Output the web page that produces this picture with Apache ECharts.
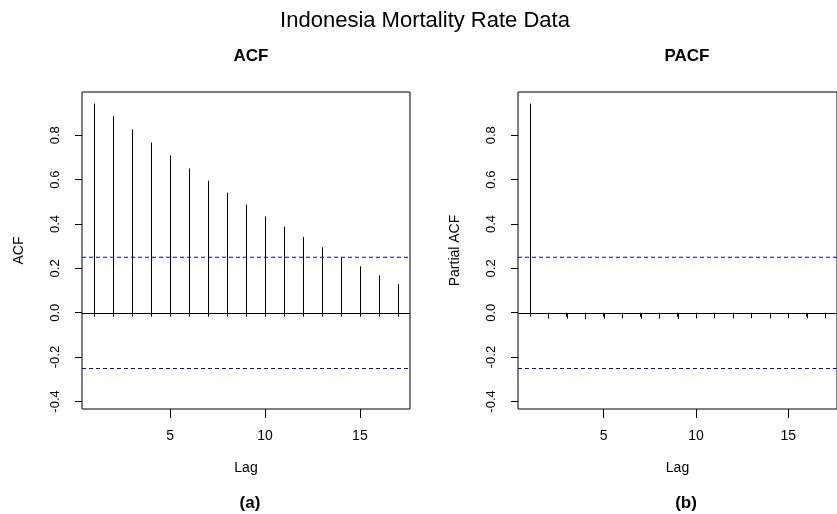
<!DOCTYPE html>
<html>
<head>
<meta charset="utf-8">
<script src="https://cdn.jsdelivr.net/npm/echarts@6/dist/echarts.min.js"></script>
<style>html,body{margin:0;padding:0;background:#fff}#c{width:837px;height:514px}</style>
</head>
<body>
<div id="c"></div>
<script>
// ---- data ----
const lags = [1,2,3,4,5,6,7,8,9,10,11,12,13,14,15,16,17];
const acfValues = [0.943,0.886,0.827,0.767,0.709,0.650,0.595,0.541,0.487,0.434,0.388,0.341,0.295,0.250,0.209,0.168,0.129];
const pacfValues = [0.943,-0.027,-0.027,-0.028,-0.027,-0.026,-0.027,-0.027,-0.028,-0.026,-0.025,-0.026,-0.025,-0.026,-0.025,-0.025,-0.025];
const confLimit = 0.25;
const yTicks = [-0.4,-0.2,0,0.2,0.4,0.6,0.8];
const xMajorTicks = [5,10,15];
const mainTitle = 'Indonesia Mortality Rate Data';
const panelTitles = ['ACF','PACF'];
const yNames = ['ACF','Partial ACF'];
const xName = 'Lag';
const captions = ['(a)','(b)'];

const FONT = "'Liberation Sans', Arial, sans-serif";
const X_MIN = 0.36, X_MAX = 17.64, Y_MIN = -0.434, Y_MAX = 0.995;
const grids = [
  {left: 82, top: 92, width: 328, height: 317},
  {left: 518, top: 92, width: 327, height: 317}
];

const chart = echarts.init(document.getElementById('c'), null, {renderer: 'canvas'});

function hLine(i, value, color, dash, z, snap) {
  return {
    type: 'custom', xAxisIndex: i * 2, yAxisIndex: i, z: z, silent: true, animation: false,
    data: [[X_MIN, value]],
    renderItem: (params, api) => {
      const a = api.coord([X_MIN, api.value(1)]);
      const b = api.coord([X_MAX, api.value(1)]);
      const y = snap ? Math.round(a[1]) + 0.5 : a[1];
      return {type: 'line', shape: {x1: a[0], y1: y, x2: b[0], y2: y},
        style: {stroke: color, lineWidth: 1, lineDash: dash ? dash.slice() : null}};
    }
  };
}

const xAxes = [], yAxes = [], series = [];
[0,1].forEach(i => {
  xAxes.push({
    gridIndex: i, type: 'value', min: X_MIN, max: X_MAX, position: 'bottom',
    axisLine: {show: false}, splitLine: {show: false},
    axisTick: {show: true, length: 4, customValues: lags, lineStyle: {color: '#000', width: 1}},
    axisLabel: {show: false, customValues: lags}
  });
  xAxes.push({
    gridIndex: i, type: 'value', min: X_MIN, max: X_MAX, position: 'bottom',
    axisLine: {show: false}, splitLine: {show: false},
    axisTick: {show: true, length: 9, customValues: xMajorTicks, lineStyle: {color: '#000', width: 1}},
    axisLabel: {show: true, customValues: xMajorTicks, margin: 20, fontSize: 14, color: '#000', fontFamily: FONT},
    name: xName, nameLocation: 'middle', nameGap: 52,
    nameTextStyle: {fontSize: 14, color: '#000', fontFamily: FONT}
  });
  yAxes.push({
    gridIndex: i, type: 'value', min: Y_MIN, max: Y_MAX,
    axisLine: {show: false}, splitLine: {show: false},
    axisTick: {show: true, length: 7, customValues: yTicks, lineStyle: {color: '#000', width: 1}},
    axisLabel: {show: true, customValues: yTicks, rotate: 90, margin: 20, fontSize: 13, color: '#000', fontFamily: FONT,
      formatter: v => Number(v).toFixed(1)},
    name: yNames[i], nameLocation: 'middle', nameGap: 56, nameRotate: 90,
    nameTextStyle: {fontSize: 14, color: '#000', fontFamily: FONT}
  });
  series.push(hLine(i, 0, '#000000', null, 3, true));
  series.push(hLine(i, confLimit, '#0000ff', [4, 3], 5, false));
  series.push(hLine(i, -confLimit, '#0000ff', [4, 3], 5, true));
  const vals = i === 0 ? acfValues : pacfValues;
  series.push({
    type: 'custom', xAxisIndex: i * 2, yAxisIndex: i, z: 4,
    data: lags.map((l, k) => [l, vals[k]]),
    renderItem: (params, api) => {
      const p0 = api.coord([api.value(0), 0]);
      const p1 = api.coord([api.value(0), api.value(1)]);
      const x = Math.round(p0[0]) + 0.5;
      return {type: 'line', shape: {x1: x, y1: Math.round(p0[1]) + 0.5, x2: x, y2: p1[1]},
        style: {stroke: '#000', lineWidth: 1}};
    },
    animation: false
  });
});

const option = {
  backgroundColor: '#fff',
  animation: false,
  title: [
    {text: mainTitle, left: 420, top: 5, textAlign: 'center',
      textStyle: {fontSize: 22, fontWeight: 'normal', color: '#000', fontFamily: FONT}},
    {text: panelTitles[0], left: 246, top: 43, textAlign: 'center',
      textStyle: {fontSize: 17, fontWeight: 'bold', color: '#000', fontFamily: FONT}},
    {text: panelTitles[1], left: 682, top: 43, textAlign: 'center',
      textStyle: {fontSize: 17, fontWeight: 'bold', color: '#000', fontFamily: FONT}},
    {text: captions[0], left: 245, top: 490, textAlign: 'center',
      textStyle: {fontSize: 17, fontWeight: 'bold', color: '#000', fontFamily: FONT}},
    {text: captions[1], left: 681, top: 490, textAlign: 'center',
      textStyle: {fontSize: 17, fontWeight: 'bold', color: '#000', fontFamily: FONT}}
  ],
  grid: grids.map(g => Object.assign({show: true, borderColor: '#000', borderWidth: 1, backgroundColor: 'transparent', containLabel: false}, g)),
  xAxis: xAxes,
  yAxis: yAxes,
  series: series
};
chart.setOption(option);
</script>
</body>
</html>
